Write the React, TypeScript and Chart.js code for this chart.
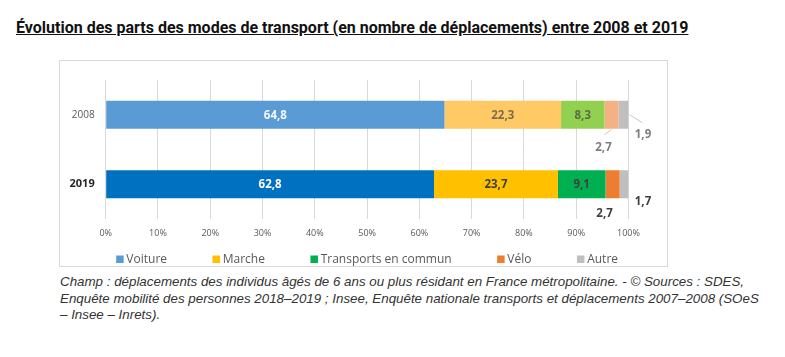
import { useEffect, useRef } from "react";
import { Chart, registerables } from "chart.js";

Chart.register(...registerables);

// ---- Data ----
const years = ["2008", "2019"];
const modes = ["Voiture", "Marche", "Transports en commun", "Vélo", "Autre"];
const voiture = [64.8, 62.8];
const marche = [22.3, 23.7];
const transports = [8.3, 9.1];
const velo = [2.7, 2.7];
const autre = [1.9, 1.7];
const xTickValues = [0, 10, 20, 30, 40, 50, 60, 70, 80, 90, 100];

// ---- Styles ----
const colors2008 = ["#5B9BD5", "#FFCA66", "#92D050", "#F4B183", "#BFBFBF"];
const colors2019 = ["#0070C0", "#FFC000", "#00B050", "#ED7D31", "#BFBFBF"];
const legendColors = ["#5B9BD5", "#FFC000", "#00B050", "#ED7D31", "#BFBFBF"];

const FONT = '"Open Sans", sans-serif';

const seriesValues = [voiture, marche, transports, velo, autre];

// outside label placement for small segments (per dataset, per row)
const outside: Record<number, { dx: number; dy: number; leader: boolean }[]> = {
  3: [
    { dx: -8, dy: 19, leader: true },
    { dx: -8, dy: 16, leader: false },
  ],
  4: [
    { dx: 14.5, dy: 20, leader: true },
    { dx: 14.5, dy: 17, leader: false },
  ],
};

const labelPlugin = {
  id: "segLabels",
  afterDatasetsDraw(chart: any) {
    const ctx = chart.ctx;
    ctx.save();
    chart.data.datasets.forEach((ds: any, di: number) => {
      const meta = chart.getDatasetMeta(di);
      meta.data.forEach((bar: any, i: number) => {
        const v = ds.data[i] as number;
        const text = v.toFixed(1).replace(".", ",");
        const p = bar.getProps(["x", "y", "base", "height"], true);
        const cx = (p.x + p.base) / 2;
        const is2008 = i === 0;
        ctx.font = `bold 11.5px ${FONT}`;
        ctx.textAlign = "center";
        ctx.textBaseline = "middle";
        if (v >= 5) {
          if (di === 0) {
            ctx.fillStyle = is2008 ? "rgba(255,255,255,0.92)" : "#ffffff";
          } else {
            ctx.fillStyle = is2008 ? "rgba(64,64,64,0.68)" : "#404040";
          }
          ctx.fillText(text, cx, p.y + 0.5);
        } else {
          const o = outside[di][i];
          const bottom = p.y + p.height / 2;
          let lx: number, ly: number;
          if (di === 3) {
            lx = cx + o.dx;
            ly = bottom + o.dy;
            if (o.leader) {
              ctx.strokeStyle = "#C8C8C8";
              ctx.lineWidth = 1;
              ctx.beginPath();
              ctx.moveTo(cx, bottom + 1);
              ctx.lineTo(cx - 7, bottom + 6);
              ctx.stroke();
            }
          } else {
            lx = p.x + o.dx;
            ly = p.y + o.dy;
            if (o.leader) {
              ctx.strokeStyle = "#C8C8C8";
              ctx.lineWidth = 1;
              ctx.beginPath();
              ctx.moveTo(p.x + 1, p.y);
              ctx.lineTo(p.x + 14, p.y + 8);
              ctx.stroke();
            }
          }
          ctx.fillStyle = is2008 ? "rgba(64,64,64,0.68)" : "#404040";
          ctx.fillText(text, lx, ly);
        }
      });
    });
    ctx.restore();
  },
};

const legendPlugin = {
  id: "customLegend",
  afterDraw(chart: any) {
    const ctx = chart.ctx;
    const area = chart.chartArea;
    ctx.save();
    ctx.font = `12px ${FONT}`;
    const box = 7.5;
    const gapBoxText = 2.7;
    const gapItems = 45.5;
    const widths = modes.map((m) => ctx.measureText(m).width);
    const total =
      widths.reduce((a, b) => a + b, 0) +
      modes.length * (box + gapBoxText) +
      (modes.length - 1) * gapItems;
    let x = (area.left + area.right) / 2 - total / 2;
    const cy = 198;
    modes.forEach((m, k) => {
      ctx.fillStyle = legendColors[k];
      ctx.fillRect(x, cy - 3.5, box, box);
      x += box + gapBoxText;
      ctx.fillStyle = "#595959";
      ctx.textAlign = "left";
      ctx.textBaseline = "middle";
      ctx.fillText(m, x, cy + 0.5);
      x += widths[k] + gapItems;
    });
    ctx.restore();
  },
};

export default function App() {
  const ref = useRef<HTMLCanvasElement>(null);

  useEffect(() => {
    const datasets = modes.map((m, k) => ({
      label: m,
      data: seriesValues[k],
      backgroundColor: [colors2008[k], colors2019[k]],
      borderWidth: 0,
      barPercentage: 0.4,
      categoryPercentage: 1,
    }));
    const chart = new Chart(ref.current as HTMLCanvasElement, {
      type: "bar",
      data: { labels: years, datasets },
      options: {
        indexAxis: "y",
        responsive: false,
        maintainAspectRatio: false,
        devicePixelRatio: 1,
        animation: false,
        layout: { padding: { top: 19, right: 38.5, left: 0, bottom: 0 } },
        plugins: {
          legend: { display: false },
          tooltip: { enabled: false },
          title: { display: false },
        },
        scales: {
          x: {
            stacked: true,
            min: 0,
            max: 100,
            afterBuildTicks: (scale: any) => {
              scale.ticks = xTickValues.map((v) => ({ value: v }));
            },
            afterFit: (scale: any) => {
              scale.height = 47;
            },
            grid: { color: "#D9D9D9", drawTicks: false, lineWidth: 1 },
            border: { display: false },
            ticks: {
              autoSkip: false,
              maxRotation: 0,
              padding: 9,
              color: "#595959",
              font: { family: FONT, size: 9 },
              callback: (v: any) => `${v}%`,
            },
          },
          y: {
            stacked: true,
            afterFit: (scale: any) => {
              scale.width = 45.7;
            },
            grid: { display: false, drawTicks: false },
            border: { display: false },
            ticks: {
              padding: 11,
              color: (c: any) => (c.index === 1 ? "#262626" : "#595959"),
              font: (c: any) =>
                c.index === 1
                  ? { family: FONT, size: 11, weight: "bold" }
                  : { family: FONT, size: 10 },
            },
          },
        },
      },
      plugins: [labelPlugin, legendPlugin],
    } as any);
    return () => chart.destroy();
  }, []);

  return (
    <div
      style={{
        position: "absolute",
        left: 0,
        top: 0,
        width: 785,
        height: 357,
        background: "#ffffff",
        overflow: "hidden",
      }}
    >
      <div
        style={{
          position: "absolute",
          left: 16,
          top: 18,
          fontFamily: "Roboto, sans-serif",
          fontWeight: 700,
          fontSize: 16,
          lineHeight: "19px",
          color: "#111111",
          textDecoration: "underline",
          whiteSpace: "nowrap",
        }}
      >
        Évolution des parts des modes de transport (en nombre de déplacements) entre 2008 et 2019
      </div>
      <div
        style={{
          position: "absolute",
          left: 59,
          top: 60,
          width: 607,
          height: 205,
          border: "1px solid #D9D9D9",
        }}
      >
        <canvas
          ref={ref}
          width={607}
          height={205}
          style={{ display: "block", width: 607, height: 205 }}
        />
      </div>
      <div
        style={{
          position: "absolute",
          left: 60,
          top: 274,
          fontFamily: '"Liberation Sans", Arial, sans-serif',
          fontStyle: "italic",
          fontSize: 13.35,
          lineHeight: "16.5px",
          color: "#333333",
          whiteSpace: "nowrap",
        }}
      >
        Champ : déplacements des individus âgés de 6 ans ou plus résidant en France métropolitaine. - © Sources : SDES,
        <br />
        Enquête mobilité des personnes 2018–2019 ; Insee, Enquête nationale transports et déplacements 2007–2008 (SOeS
        <br />– Insee – Inrets).
      </div>
    </div>
  );
}
